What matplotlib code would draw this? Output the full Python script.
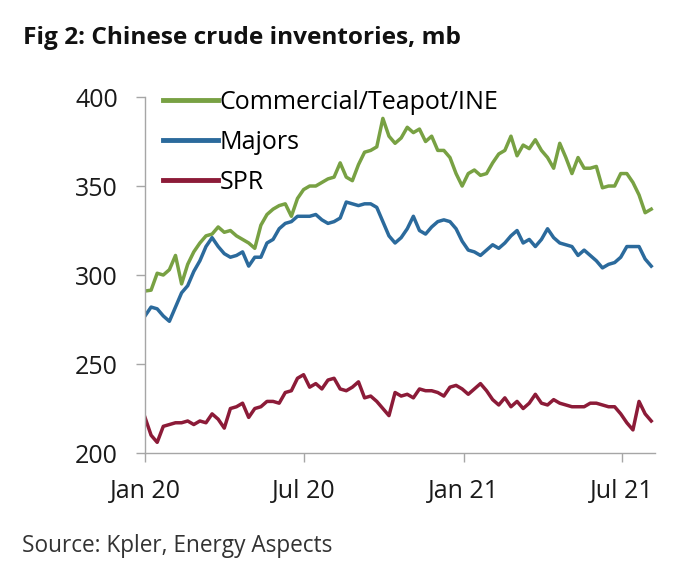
import matplotlib
matplotlib.use("Agg")
import matplotlib.pyplot as plt
import pandas as pd

# ---- data (weekly readings, mb) ----
start_date = "2020-01-01"
n_weeks = 84

commercial = [291, 291.5, 301, 300, 303, 311, 295, 306, 313, 318,
              322, 323, 327, 324, 325, 322, 320, 318, 315, 328,
              334, 337, 339, 340, 333, 343, 348, 350, 350, 352,
              354, 355, 363, 355, 353, 362, 369, 370, 372, 388,
              378, 374, 377, 383, 380, 382, 375, 378, 370, 370,
              366, 357, 350, 357, 359, 356, 357, 363, 368, 370,
              378, 367, 373, 371, 376, 370, 366, 360, 374, 366,
              357, 366, 360, 360, 361, 349, 350, 350, 357, 357,
              352, 345, 335, 337]

majors = [277, 282, 281, 277, 274, 282, 290, 294, 302, 308,
          316, 321, 316, 312, 310, 311, 313, 305, 310, 310,
          318, 320, 326, 329, 330, 333, 333, 333, 334, 331,
          329, 330, 332, 341, 340, 339, 340, 340, 338, 330,
          322, 318, 321, 326, 333, 325, 323, 327, 330, 331,
          330, 326, 319, 314, 313, 311, 314, 317, 315, 318,
          322, 325, 318, 320, 316, 320, 326, 321, 318, 317,
          316, 311, 314, 311, 308, 304, 306, 307, 310, 316,
          316, 316, 309, 305]

spr = [220, 210, 206, 215, 216, 217, 217, 218, 216, 218,
       217, 222, 219, 214, 225, 226, 228, 220, 225, 226,
       229, 229, 228, 234, 235, 242, 244, 237, 239, 236,
       241, 242, 236, 235, 237, 240, 231, 232, 229, 225,
       221, 234, 232, 233, 231, 236, 235, 235, 234, 232,
       237, 238, 236, 233, 236, 239, 235, 230, 227, 231,
       226, 229, 225, 228, 233, 228, 227, 230, 228, 227,
       226, 226, 226, 228, 228, 227, 226, 226, 222, 217,
       213, 229, 222, 218]

series_labels = ["Commercial/Teapot/INE", "Majors", "SPR"]
series_colors = ["#78A143", "#2B6A9C", "#8C1B38"]
y_ticks = [200, 250, 300, 350, 400]
x_tick_dates = ["2020-01-01", "2020-07-01", "2021-01-01", "2021-07-01"]
x_tick_labels = ["Jan 20", "Jul 20", "Jan 21", "Jul 21"]
title = "Fig 2: Chinese crude inventories, mb"
source = "Source: Kpler, Energy Aspects"

dates = pd.date_range(start_date, periods=n_weeks, freq="7D")

plt.rcParams["font.family"] = ["Open Sans", "DejaVu Sans"]

fig = plt.figure(figsize=(6.82, 5.82), dpi=100)
ax = fig.add_axes([0.2126, 0.2216, 0.7474, 0.6117])

for vals, lab, col in zip([commercial, majors, spr], series_labels, series_colors):
    ax.plot(dates, vals, color=col, lw=2.5, label=lab, solid_joinstyle="round")

ax.set_ylim(200, 400)
ax.set_yticks(y_ticks)
ax.set_xlim(pd.Timestamp("2020-01-01"), pd.Timestamp("2021-08-08"))
ax.set_xticks(pd.to_datetime(x_tick_dates))
ax.set_xticklabels(x_tick_labels)

for s in ["top", "right"]:
    ax.spines[s].set_visible(False)
for s in ["left", "bottom"]:
    ax.spines[s].set_color("#A6A6A6")
    ax.spines[s].set_linewidth(1.0)
ax.tick_params(axis="both", colors="#A6A6A6", labelcolor="#1a1a1a",
               labelsize=18, length=6.5, width=1.0)
ax.tick_params(axis="y", pad=13)
ax.tick_params(axis="x", pad=12)

leg = ax.legend(loc="upper left", bbox_to_anchor=(0.035, 1.02), frameon=False,
                fontsize=18, handlelength=2.2, handletextpad=0.08,
                labelspacing=0.6, borderpad=0, borderaxespad=0)
for h in leg.get_lines():
    h.set_linewidth(3.5)

fig.text(0.033, 0.935, title, fontsize=17.6, fontweight="bold", color="#111111",
         ha="left", va="center")
fig.text(0.032, 0.062, source, fontsize=16.3, color="#333333", ha="left", va="center")

fig.savefig("out.png", dpi=100)
